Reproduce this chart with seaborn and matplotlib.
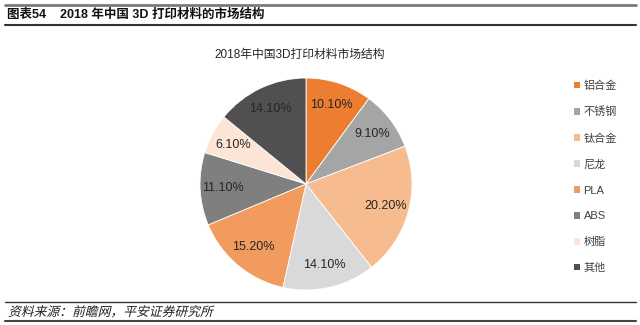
import matplotlib
matplotlib.use("Agg")
import matplotlib.pyplot as plt
from matplotlib.patches import Patch, PathPatch
from matplotlib.textpath import TextPath
from matplotlib.font_manager import FontProperties
from matplotlib.transforms import Affine2D, IdentityTransform
from matplotlib.lines import Line2D
import seaborn as sns

# Material categories and their market share (%)
materials = ["铝合金", "不锈钢", "钛合金", "尼龙", "PLA", "ABS", "树脂", "其他"]
shares = [10.1, 9.1, 20.2, 14.1, 15.2, 11.1, 6.1, 14.1]
slice_colors = ["#ED7D31", "#A5A5A5", "#F6BC8F", "#D9D9D9",
                "#F19B5F", "#7F7F7F", "#FCE4D6", "#505050"]

header_text = "图表54    2018 年中国 3D 打印材料的市场结构"
chart_title = "2018年中国3D打印材料市场结构"
source_text = "资料来源：前瞻网，平安证券研究所"

sns.set_theme(style="white")
plt.rcParams["font.family"] = ["Liberation Sans", "Noto Sans CJK SC", "DejaVu Sans"]

W, H = 640, 325
fig = plt.figure(figsize=(W / 100, H / 100), dpi=100)
fig.patch.set_facecolor("white")

palette = sns.color_palette(slice_colors)

# Pie: centre (306, 184) px, radius 106 px
cx, cy, r = 306, 184, 106
ax = fig.add_axes([(cx - r) / W, (H - cy - r) / H, 2 * r / W, 2 * r / H])
wedges, texts, autotexts = ax.pie(
    shares, colors=palette, startangle=90, counterclock=False,
    autopct=lambda p: f"{p:.2f}%", pctdistance=0.78,
    wedgeprops=dict(linewidth=0.6, edgecolor="white"),
    textprops=dict(fontsize=9, color="#262626"),
)
ax.set_xlim(-1.0, 1.0)
ax.set_ylim(-1.0, 1.0)
ax.set_aspect("equal")
ax.axis("off")

fig.text(300 / W, 1 - 55 / H, chart_title, ha="center", va="center",
         fontsize=8.5, color="#262626")

# Legend
handles = [Patch(facecolor=c, edgecolor="none") for c in palette]
fig.legend(handles, materials, loc="upper left",
           bbox_to_anchor=(568 / W, 1 - 75 / H), frameon=False,
           fontsize=8, handlelength=0.55, handleheight=0.55,
           handletextpad=0.35, labelspacing=1.42, borderpad=0,
           labelcolor="#404040")

# Header and footer rules
def hline(y, lw, color):
    fig.add_artist(Line2D([5 / W, 636 / W], [1 - y / H, 1 - y / H],
                          transform=fig.transFigure, lw=lw, color=color))

hline(5, 2.0, "#7a7a7a")
hline(25, 1.5, "#333333")
hline(302, 1.0, "#333333")
hline(321, 1.5, "#444444")

fig.text(7 / W, 1 - 15 / H, header_text, ha="left", va="center",
         fontsize=9, fontweight="bold", color="#111111")

# Slanted source note
fp = FontProperties(family="Noto Sans CJK SC")
tp = TextPath((0, 0), source_text, size=12.8, prop=fp)
tr = Affine2D().skew_deg(14, 0).translate(8, H - 316) + IdentityTransform()
fig.add_artist(PathPatch(tp, transform=tr, facecolor="#222222", edgecolor="none"))

fig.savefig("out.png", dpi=100, facecolor="white")
